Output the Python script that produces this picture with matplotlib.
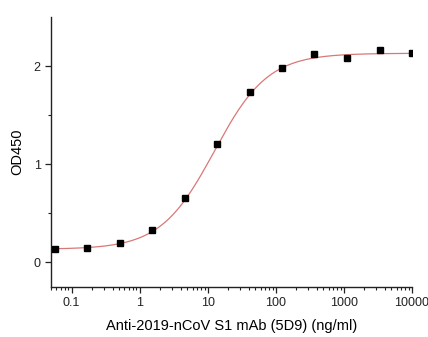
import numpy as np
import matplotlib
matplotlib.use("Agg")
import matplotlib.pyplot as plt
from matplotlib.ticker import LogLocator, FixedLocator, NullFormatter

plt.rcParams['font.family'] = ['Liberation Sans', 'DejaVu Sans']

# 3-fold serial dilution of the antibody (ng/ml)
conc = [0.0564, 0.169, 0.508, 1.52, 4.57, 13.7, 41.2, 123, 370, 1111, 3333, 10000]
od450 = [0.13, 0.14, 0.19, 0.33, 0.65, 1.20, 1.73, 1.98, 2.12, 2.08, 2.16, 2.13]

# 4PL fit parameters
fit_bottom = 0.13
fit_top = 2.13
fit_ec50 = 12.5
fit_hill = 1.1

x_ticks = [0.1, 1, 10, 100, 1000, 10000]
x_labels = ["0.1", "1", "10", "100", "1000", "10000"]
y_ticks = [0, 1, 2]

fig = plt.figure(figsize=(4.28, 3.37), dpi=100)
ax = fig.add_axes([51 / 428, 1 - 287 / 337, (412 - 51) / 428, (287 - 17) / 337])

xs = np.logspace(np.log10(0.05), np.log10(10000), 400)
ys = fit_bottom + (fit_top - fit_bottom) / (1 + (fit_ec50 / xs) ** fit_hill)
ax.plot(xs, ys, color='#d87878', lw=0.9, zorder=2)
ax.plot(conc, od450, 's', color='black', ms=4.8, zorder=3)

ax.set_xscale('log')
ax.set_xlim(0.05, 10000)
ax.set_ylim(-0.255, 2.5)
ax.set_xticks(x_ticks)
ax.set_xticklabels(x_labels)
ax.xaxis.set_minor_locator(LogLocator(base=10, subs=np.arange(2, 10)))
ax.xaxis.set_minor_formatter(NullFormatter())
ax.set_yticks(y_ticks)
ax.yaxis.set_minor_locator(FixedLocator([0.5, 1.5]))

for s in ['top', 'right']:
    ax.spines[s].set_visible(False)
for s in ['left', 'bottom']:
    ax.spines[s].set_linewidth(1.0)
    ax.spines[s].set_color('#222222')

ax.tick_params(axis='both', which='major', direction='out', length=4, width=0.9,
               labelsize=9, colors='#222222')
ax.tick_params(axis='both', which='minor', direction='out', length=2.5, width=0.8,
               colors='#222222')

ax.set_xlabel("Anti-2019-nCoV S1 mAb (5D9) (ng/ml)", fontsize=10.5, labelpad=7)
ax.set_ylabel("OD450", fontsize=10.5, labelpad=7)

fig.savefig("out.png", dpi=100)
